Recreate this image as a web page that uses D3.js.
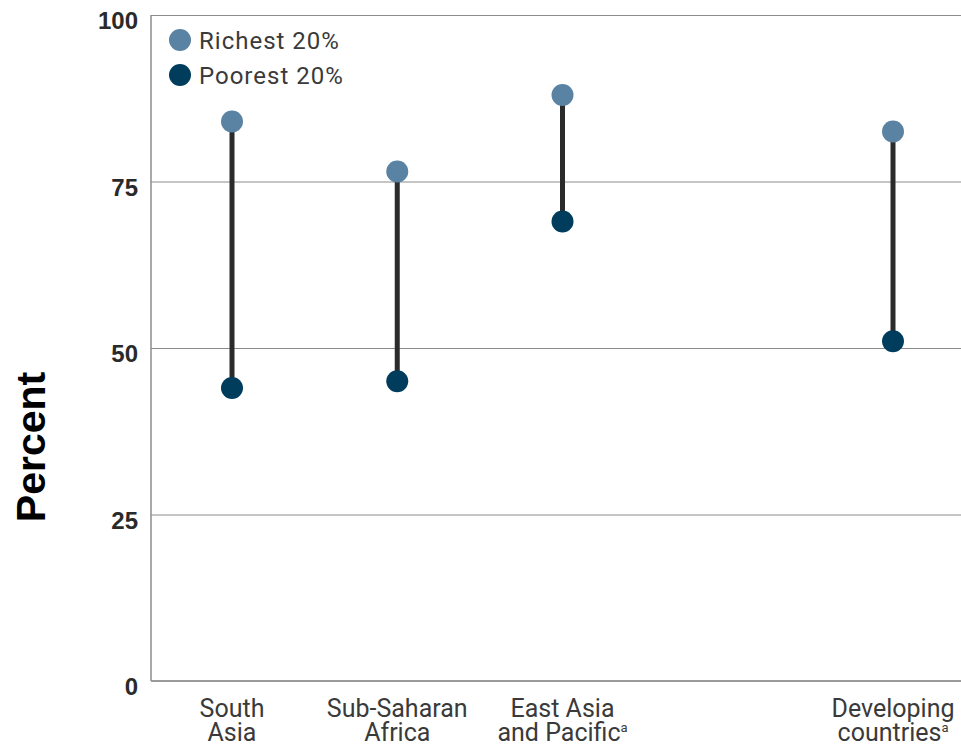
<!DOCTYPE html>
<meta charset="utf-8">
<style>
body { margin: 0; background: #fff; }
.grid line { stroke: #8c8c8c; stroke-width: 1.2px; }
.grid .domain { display: none; }
.ytick { font-family: "Liberation Sans", Arial, sans-serif; font-weight: bold; font-size: 24px; fill: #2a2a2a; }
.cat { font-family: Roboto, "Noto Sans", sans-serif; font-size: 25px; fill: #3a3a3a; }
.legend text { font-family: Roboto, "Noto Sans", sans-serif; font-size: 24px; letter-spacing: 1px; fill: #3a3a3a; }
</style>
<body>
<script src="https://d3js.org/d3.v7.min.js"></script>
<script>

// data
var regions = ["South Asia", "Sub-Saharan Africa", "East Asia and Pacific", "", "Developing countries"];
var labelLines = [["South", "Asia"], ["Sub-Saharan", "Africa"], ["East Asia", "and Pacific"], [], ["Developing", "countries"]];
var footnote = [false, false, true, false, true];
var richest = [84, 76.5, 88, null, 82.5];
var poorest = [44, 45, 69, null, 51];
var yTicks = [0, 25, 50, 75, 100];

var margin = {top: 15, right: 0, bottom: 64, left: 151},
    width = 961 - margin.left - margin.right,
    height = 745 - margin.top - margin.bottom;

var x = d3.scalePoint().domain(regions).range([81, 742]);
var y = d3.scaleLinear().domain([0, 100]).range([height, 0]);

var svg = d3.select("body").append("svg")
    .attr("width", 961)
    .attr("height", 745)
  .append("g")
    .attr("transform", "translate(" + margin.left + "," + margin.top + ")");

// gridlines
svg.append("g")
    .attr("class", "grid")
    .call(d3.axisLeft(y).tickValues(yTicks).tickSize(-width).tickFormat(""));

// left axis line
svg.append("line")
    .attr("x1", 0).attr("x2", 0)
    .attr("y1", 0).attr("y2", height)
    .style("stroke", "#8c8c8c")
    .style("stroke-width", 1.5);

// bottom axis line
svg.append("line")
    .attr("x1", 0).attr("x2", width)
    .attr("y1", height).attr("y2", height)
    .style("stroke", "#9a9a9a")
    .style("stroke-width", 2);

// y tick labels (sit just below their gridline)
svg.selectAll(".ytick")
    .data(yTicks)
  .enter().append("text")
    .attr("class", "ytick")
    .attr("x", -13)
    .attr("y", function(d) { return y(d) + 14; })
    .attr("text-anchor", "end")
    .text(function(d) { return d; });

// y label
svg.append("text")
    .attr("transform", "translate(-106," + (447 - margin.top) + ") rotate(-90)")
    .attr("text-anchor", "middle")
    .style("font-family", "'Liberation Sans', Arial, sans-serif")
    .style("font-weight", "bold")
    .style("font-size", "41px")
    .style("fill", "#000")
    .text("Percent");

var idx = d3.range(regions.length).filter(function(i) { return richest[i] != null; });

// connecting lines
svg.selectAll(".stem")
    .data(idx)
  .enter().append("line")
    .attr("x1", function(i) { return x(regions[i]); })
    .attr("x2", function(i) { return x(regions[i]); })
    .attr("y1", function(i) { return y(richest[i]); })
    .attr("y2", function(i) { return y(poorest[i]); })
    .style("stroke", "#2b2b2b")
    .style("stroke-width", 5);

svg.selectAll(".rich")
    .data(idx)
  .enter().append("circle")
    .attr("cx", function(i) { return x(regions[i]); })
    .attr("cy", function(i) { return y(richest[i]); })
    .attr("r", 11)
    .style("fill", "#5a82a2");

svg.selectAll(".poor")
    .data(idx)
  .enter().append("circle")
    .attr("cx", function(i) { return x(regions[i]); })
    .attr("cy", function(i) { return y(poorest[i]); })
    .attr("r", 11)
    .style("fill", "#003d5c");

// category labels
var cats = svg.selectAll(".cat")
    .data(idx)
  .enter().append("text")
    .attr("class", "cat")
    .attr("text-anchor", "middle")
    .attr("transform", function(i) { return "translate(" + x(regions[i]) + "," + (height + 36) + ")"; });

cats.each(function(i) {
  var t = d3.select(this);
  labelLines[i].forEach(function(line, k) {
    var ts = t.append("tspan")
        .attr("x", 0)
        .attr("dy", k === 0 ? 0 : 24)
        .text(line);
    if (k === 1 && footnote[i]) {
      ts.append("tspan")
          .attr("dy", -9)
          .style("font-size", "13px")
          .text("a");
    }
  });
});

// legend
var legend = svg.append("g").attr("class", "legend");
var legendItems = [["Richest 20%", "#5a82a2"], ["Poorest 20%", "#003d5c"]];
legendItems.forEach(function(d, k) {
  legend.append("circle")
      .attr("cx", 29)
      .attr("cy", 25 + k * 35)
      .attr("r", 11)
      .style("fill", d[1]);
  legend.append("text")
      .attr("x", 48)
      .attr("y", 25 + k * 35 + 9)
      .text(d[0]);
});

</script>
</body>
